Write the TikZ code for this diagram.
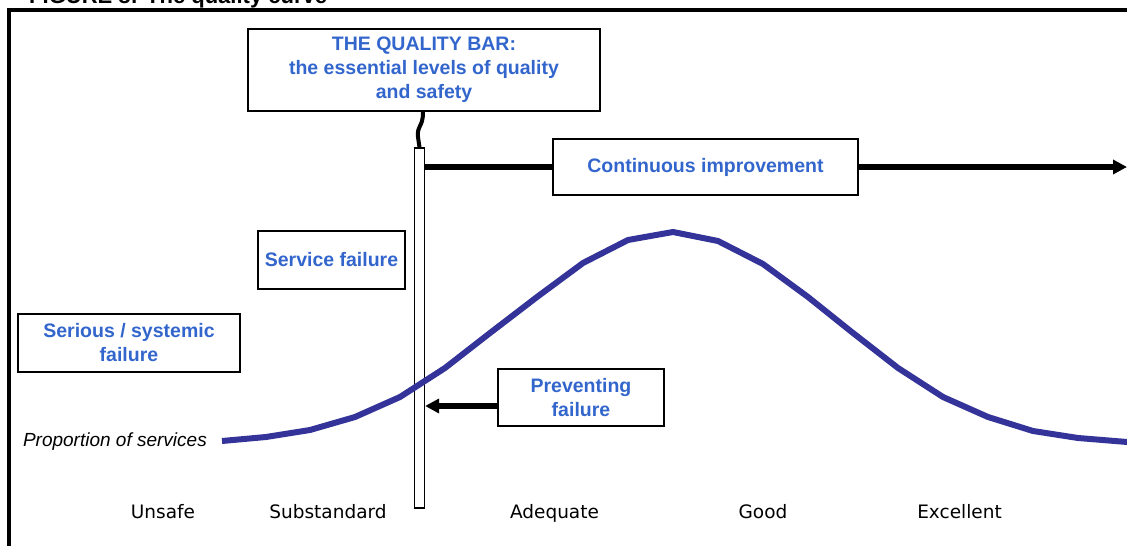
\documentclass[tikz,border=0pt]{standalone}
\usepackage{fontspec}
\setmainfont{Liberation Sans}
\newfontfamily\axisfont{DejaVu Sans}
\usetikzlibrary{arrows.meta,positioning}
\definecolor{textblue}{RGB}{51,102,204}
\definecolor{curveblue}{RGB}{51,51,153}
\tikzset{
    qbox/.style={draw,line width=1.5bp,fill=white,inner sep=0pt,align=center,
        text=textblue,font=\bfseries\fontsize{19.5bp}{24bp}\selectfont},
    level/.style={anchor=base,font=\axisfont\fontsize{18.5bp}{21bp}\selectfont},
    bigarrow/.style={line width=5.5bp,-{Triangle[length=14bp,width=14bp]}}
}
\begin{document}
\begin{tikzpicture}[x=1bp,y=-1bp]
        \clip (0,0) rectangle (1127,546);
        %% title, cut off at the top
        \node[anchor=base west,inner sep=0pt,font=\bfseries\fontsize{22bp}{26bp}\selectfont] (title) at (29,4) {FIGURE 8: The quality curve};
        %% frame
        \draw[line width=4bp] (1140,10) -- (9,10) -- (9,560);
        %% the quality bar
        \node[draw,line width=1.2bp,fill=white,minimum width=10bp,minimum height=360bp,inner sep=0pt] (bar) at (419.5,328) {};
        \node[qbox,minimum width=352bp,minimum height=82bp] (qb) at (424,70) {THE QUALITY BAR:\\the essential levels of quality\\and safety};
        \draw[line width=4bp] (qb.south -| 423,0) .. controls (423,128) and (417,124) .. (418,137) -- (bar.north);
        %% boxes
        \node[qbox,minimum width=305bp,minimum height=56bp] (ci) at (705.5,167) {Continuous improvement};
        \node[qbox,minimum width=147bp,minimum height=58bp] (sf) at (331.5,260) {Service failure};
        \node[qbox,minimum width=222bp,minimum height=58bp] (ssf) at (129,343) {Serious / systemic\\failure};
        \node[qbox,minimum width=166bp,minimum height=57bp] (pf) at (581,397.5) {Preventing\\failure};
        %% arrows
        \coordinate (ciend) at (1127,167);
        \coordinate (pfstart) at (pf.west |- 0,406);
        \draw[line width=5.5bp] (bar.east |- ciend) -- (ci.west |- ciend);
        \draw[bigarrow] (ci.east |- ciend) -- (ciend);
        \draw[bigarrow] (pfstart) -- (bar.east |- pfstart);
        %% curve
        \draw[curveblue,line width=6bp,line join=round]
            (222,441) -- (266,437) -- (310,430) -- (355,417) -- (400,397) -- (445,368)
            -- (490,333) -- (537,297) -- (583,263) -- (628,240) -- (673,232) -- (718,241)
            -- (763,264) -- (808,297) -- (853,333) -- (898,368) -- (943,397) -- (988,417)
            -- (1033,431) -- (1078,438) -- (1127,442);
        \node[anchor=base east,inner sep=0pt,font=\itshape\fontsize{19bp}{22bp}\selectfont] (prop) at (207,446) {Proportion of services};
        %% levels
        \node[level] (unsafe) at (163,518) {Unsafe};
        \node[level] (subst) at (328,518) {Substandard};
        \node[level] (adeq) at (554.5,518) {Adequate};
        \node[level] (good) at (763,518) {Good};
        \node[level] (excel) at (959.5,518) {Excellent};
    \end{tikzpicture}
\end{document}
